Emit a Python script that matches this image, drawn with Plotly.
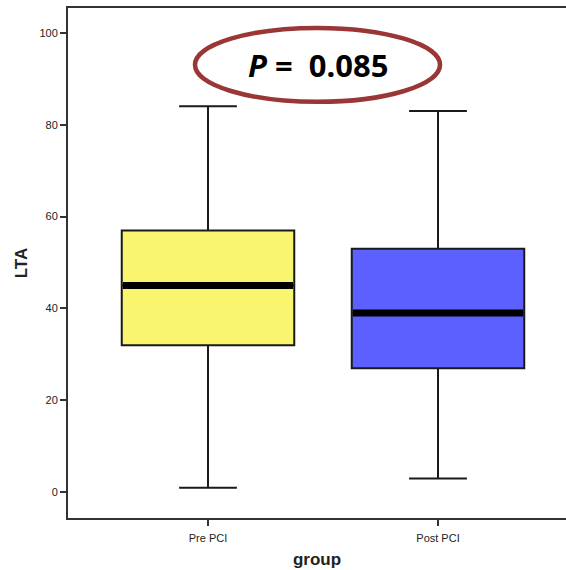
import plotly.graph_objects as go

# LTA summary statistics per group
groups = ["Pre PCI", "Post PCI"]
lower_whisker = [1, 3]
q1 = [32, 27]
median = [45, 39]
q3 = [57, 53]
upper_whisker = [84, 83]
fill_colors = ["#F9F56E", "#5C60FF"]

y_ticks = [0, 20, 40, 60, 80, 100]
p_label = "<i>P</i> =  0.085"

box_width = 0.75
positions = list(range(len(groups)))

fig = go.Figure()

for i, g in enumerate(groups):
    fig.add_trace(go.Box(
        x=[positions[i]],
        q1=[q1[i]], median=[median[i]], q3=[q3[i]],
        lowerfence=[lower_whisker[i]], upperfence=[upper_whisker[i]],
        name=g,
        width=box_width,
        whiskerwidth=0.335,
        fillcolor=fill_colors[i],
        line=dict(color="#1a1a1a", width=2),
        boxpoints=False,
        hoverinfo="skip",
        showlegend=False,
    ))
    # heavy median bar drawn over the box
    fig.add_trace(go.Scatter(
        x=[positions[i] - box_width / 2 + 0.005, positions[i] + box_width / 2 - 0.005],
        y=[median[i], median[i]],
        mode="lines",
        line=dict(color="black", width=7),
        hoverinfo="skip",
        showlegend=False,
    ))

fig.update_layout(
    width=566, height=570,
    margin=dict(l=68, r=0, t=8, b=52),
    paper_bgcolor="white",
    plot_bgcolor="white",
    font=dict(family="Liberation Sans, Arial, sans-serif", color="#222"),
    xaxis=dict(
        range=[-0.6087, 1.5565],
        tickmode="array",
        tickvals=positions,
        ticktext=groups,
        showgrid=False, zeroline=False,
        showline=True, linecolor="#333", linewidth=2, mirror=True,
        ticks="outside", ticklen=6, tickwidth=2, tickcolor="#333",
        ticklabelstandoff=3,
        tickfont=dict(size=11, color="#222"),
        title=dict(text="<b>group</b>", font=dict(size=17, color="#222"), standoff=10),
    ),
    yaxis=dict(
        range=[-5.6, 105.4],
        tickmode="array",
        tickvals=y_ticks,
        showgrid=False, zeroline=False,
        showline=True, linecolor="#333", linewidth=2,
        ticks="outside", ticklen=6, tickwidth=2, tickcolor="#333",
        tickfont=dict(size=11, color="#222"),
        title=dict(text="<b>LTA</b>", font=dict(size=17, color="#222"), standoff=7),
    ),
)

# ellipse around the p-value
fig.add_shape(
    type="circle", xref="paper", yref="paper",
    x0=0.255, x1=0.747, y0=0.816, y1=0.961,
    line=dict(color="#9B3636", width=4.5),
    fillcolor="rgba(0,0,0,0)",
    layer="above",
)
fig.add_annotation(
    x=0.503, y=0.888, xref="paper", yref="paper",
    text="<b>" + p_label + "</b>",
    showarrow=False,
    font=dict(size=31, color="black", family="Noto Sans, Open Sans, sans-serif"),
    xanchor="center", yanchor="middle",
)

fig.write_html("out.html")
